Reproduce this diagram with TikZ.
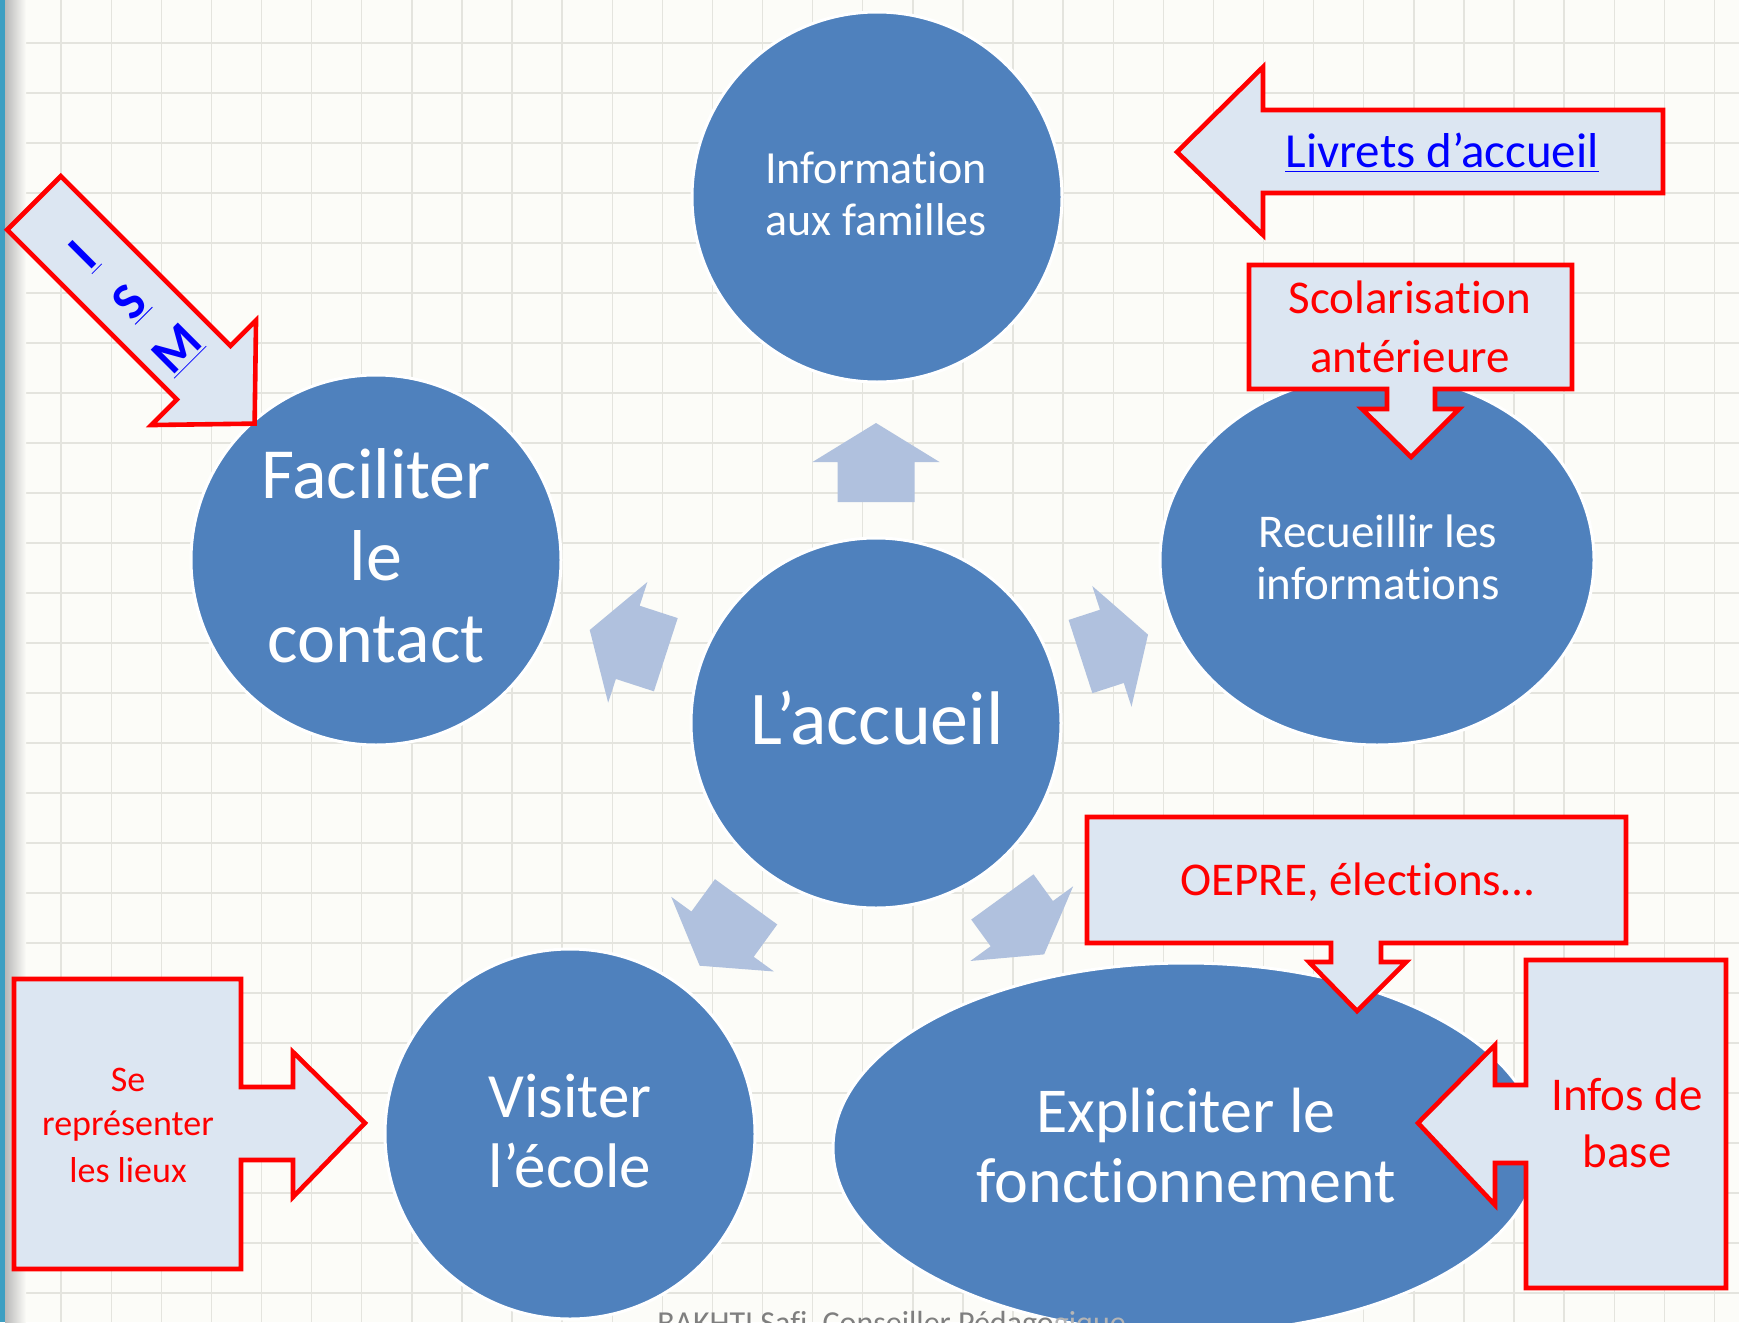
\documentclass[tikz,border=0pt]{standalone}
\usepackage{fontspec}
\setmainfont{Carlito}[Ligatures=NoCommon]
\usetikzlibrary{shapes.geometric}
\definecolor{bgc}{HTML}{FCFCF8}
\definecolor{gridc}{HTML}{E4E4DE}
\definecolor{accb}{HTML}{4F81BD}
\definecolor{flowc}{HTML}{B0C1DE}
\definecolor{calf}{HTML}{DCE6F2}
\definecolor{calr}{HTML}{FF0000}
\definecolor{linkb}{HTML}{0000FF}
\definecolor{stripc}{HTML}{3E9FC2}
\definecolor{footc}{HTML}{7F7F7F}
\definecolor{footl}{HTML}{B5B5B5}
\newcommand{\fsz}[2]{\fontsize{#1}{#2}\selectfont}
\begin{document}
\begin{tikzpicture}[x=0.5pt,y=-0.5pt,
  bub/.style={fill=accb, draw=white, line width=1.5pt, inner sep=0pt},
  circ/.style={bub, circle, minimum size=185pt},
  ell/.style={bub, ellipse},
  wtxt/.style={text=white, anchor=base, inner sep=0pt},
  flow/.style={fill=flowc},
  callout/.style={fill=calf, draw=calr, line width=2.3pt, line join=miter},
  rtxt/.style={text=calr, anchor=base, inner sep=0pt, font=\fsz{23.5}{28}},
]
\useasboundingbox (0,0) rectangle (1739,1322);
\clip (0,0) rectangle (1739,1322);
% background
\fill[bgc] (0,0) rectangle (1739,1322);
\foreach \k in {0,...,25} \draw[gridc, line width=0.7pt] (0,{43+50*\k}) -- (1739,{43+50*\k});
\foreach \k in {0,...,34} \draw[gridc, line width=0.7pt] ({11+50.1*\k},0) -- ({11+50.1*\k},1322);
\shade[left color=black!28, right color=bgc] (5,0) rectangle (26,1322);
\fill[stripc] (0,0) rectangle (5,1322);

% bubbles
\node[circ] (acc) at (876,723) {};
\node[circ] (info) at (877,197) {};
\node[circ] (fac) at (376,560) {};
\node[ell, minimum width=217pt, minimum height=185pt] (rec) at (1377,560) {};
\node[circ] (vis) at (570,1134) {};
\node[ell, minimum width=353pt, minimum height=185pt] (expl) at (1186,1148) {};

% radial arrows
\foreach \a/\s/\h/\t in {90/221/261/300, 162/221/261/301, 18/215/248/286, 234/221/261/300, 306/215/248/286}
  \fill[flow, shift={(876,723)}, rotate=\a] (\s,-38.5) -- (\h,-38.5) -- (\h,-63.5) -- (\t,0) -- (\h,63.5) -- (\h,38.5) -- (\s,38.5) -- cycle;

% bubble texts
\node[wtxt, font=\fsz{38}{45}] (accT) at (877,744) {L’accueil};
\node[wtxt, font=\fsz{23}{28}] (infoT1) at (876,183) {Information};
\node[wtxt, font=\fsz{23}{28}] (infoT2) at (876,235) {aux familles};
\node[wtxt, font=\fsz{36}{43}] (facT1) at (376,498) {Faciliter};
\node[wtxt, font=\fsz{36}{43}] (facT2) at (376,580) {le};
\node[wtxt, font=\fsz{36}{43}] (facT3) at (376,662) {contact};
\node[wtxt, font=\fsz{23.5}{28}] (recT1) at (1378,547) {Recueillir les};
\node[wtxt, font=\fsz{23.5}{28}] (recT2) at (1378,599) {informations};
\node[wtxt, font=\fsz{31.5}{38}] (visT1) at (570,1117) {Visiter};
\node[wtxt, font=\fsz{31.5}{38}] (visT2) at (570,1187) {l’école};
\node[wtxt, font=\fsz{32}{38}] (expT1) at (1186,1132) {Expliciter le};
\node[wtxt, font=\fsz{32}{38}] (expT2) at (1186,1202) {fonctionnement};

% callouts
\draw[callout] (1177,152) -- (1263,67) -- (1263,110) -- (1663,110) -- (1663,193) -- (1263,193) -- (1263,235) -- cycle;
\node[text=linkb, anchor=base, inner sep=0pt, font=\fsz{24.5}{29}] (livT) at (1442,168) {\underline{Livrets d’accueil}};

\draw[callout] (1249,265) -- (1572,265) -- (1572,389) -- (1435,389) -- (1435,409) -- (1459,409) -- (1411,457) -- (1362,409) -- (1387,409) -- (1387,389) -- (1249,389) -- cycle;
\node[rtxt] (scoT1) at (1410,313) {Scolarisation};
\node[rtxt] (scoT2) at (1410,372) {antérieure};

\draw[callout] (1087,817) -- (1626,817) -- (1626,943) -- (1381,943) -- (1381,962) -- (1406,962) -- (1357,1011) -- (1309,962) -- (1331,962) -- (1331,943) -- (1087,943) -- cycle;
\node[rtxt] (oepT) at (1357,895) {OEPRE, élections…};

\draw[callout] (1526,960) -- (1726,960) -- (1726,1288) -- (1526,1288) -- (1526,1163) -- (1495,1163) -- (1495,1205) -- (1418,1123) -- (1495,1045) -- (1495,1085) -- (1526,1085) -- cycle;
\node[rtxt] (infT1) at (1627,1110) {Infos de};
\node[rtxt] (infT2) at (1627,1167) {base};

\draw[callout] (14,979) -- (241,979) -- (241,1087) -- (293,1087) -- (293,1052) -- (365,1123) -- (293,1197) -- (293,1160) -- (241,1160) -- (241,1269) -- (14,1269) -- cycle;
\node[rtxt, font=\fsz{18}{22}] (seT1) at (128,1091) {Se};
\node[rtxt, font=\fsz{18}{22}] (seT2) at (128,1135) {représenter};
\node[rtxt, font=\fsz{18}{22}] (seT3) at (128,1182) {les lieux};

\draw[callout, shift={(34,203)}, rotate=-45] (0,-38) -- (240,-38) -- (240,-74) -- (312,0) -- (240,74) -- (240,38) -- (0,38) -- cycle;
\node[text=linkb, font=\bfseries\fsz{26}{33}, align=center, rotate=45, inner sep=0pt] (ism) at (131,303) {\underline{I}\\\underline{S}\\\underline{M}};

% footer
\node[anchor=base west, inner sep=0pt, font=\fsz{16}{19}, text=footc] (foot) at (657,1333) {BAKHTI Safi, Conseiller Pédago\textcolor{footl}{gique}};
\end{tikzpicture}
\end{document}
